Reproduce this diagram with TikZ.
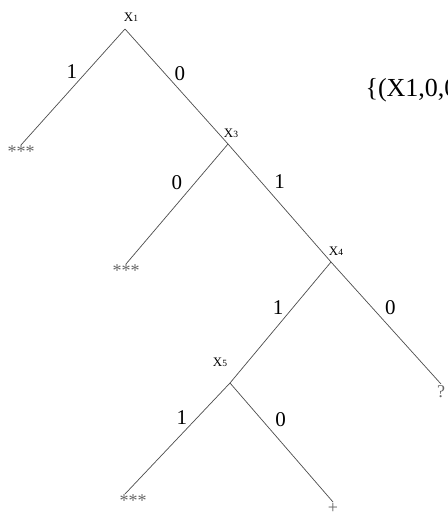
\documentclass[tikz,border=0pt]{standalone}
\usepackage{fontspec}
\setmainfont{Liberation Serif}
\usetikzlibrary{positioning}
\begin{document}
\begin{tikzpicture}[x=1pt, y=-1pt, branch/.style={draw=black!70, line width=0.7pt}, bit/.style={font=\fontsize{21}{21}\selectfont, inner sep=0pt}, var/.style={font=\fontsize{13}{13}\selectfont, inner sep=0pt}, leaf/.style={font=\fontsize{18}{18}\selectfont, text=black!60, inner sep=1pt, anchor=north}]
\useasboundingbox (0,0) rectangle (447,524);
% branch points
\coordinate (x1) at (125,29); \coordinate (x3) at (228,144); \coordinate (x4) at (331,262); \coordinate (x5) at (230,383);
\node[var] (x1l) at (131,17) {X{\fontsize{9.5}{9.5}\selectfont 1}};
\node[var] (x3l) at (231,133) {X{\fontsize{9.5}{9.5}\selectfont 3}};
\node[var] (x4l) at (336,251) {X{\fontsize{9.5}{9.5}\selectfont 4}};
\node[var] (x5l) at (220,362) {X{\fontsize{9.5}{9.5}\selectfont 5}};
% leaves
\node[leaf] (l1) at (21,145) {***};
\node[leaf] (l3) at (126,264) {***};
\node[leaf] (l4) at (441,384) {?};
\node[leaf] (l5a) at (133,494) {***};
\node[leaf] (l5b) at (333,502) {+};
\node[anchor=base west, font=\fontsize{26}{26}\selectfont] (set) at (362,97) {\{(X1,0,0};
% edges
\draw[branch] (x1) -- node[bit, pos=0.37, left=9pt] {1} (l1.north);
\draw[branch] (x1) -- node[bit, pos=0.39, right=9pt] {0} (x3);
\draw[branch] (x3) -- node[bit, pos=0.32, left=13pt] {0} (l3.north);
\draw[branch] (x3) -- node[bit, pos=0.32, right=13pt] {1} (x4);
\draw[branch] (x4) -- node[bit, pos=0.38, left=9pt] {1} (x5);
\draw[branch] (x4) -- node[bit, pos=0.37, right=13pt] {0} (l4.north);
\draw[branch] (x5) -- node[bit, pos=0.31, left=10pt] {1} ([xshift=-8pt]l5a.north);
\draw[branch] (x5) -- node[bit, pos=0.31, right=13pt] {0} (l5b.north);
\end{tikzpicture}
\end{document}
